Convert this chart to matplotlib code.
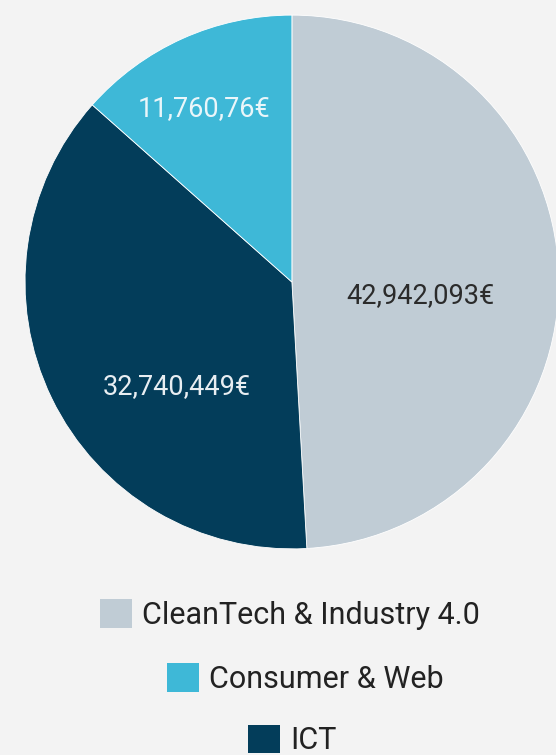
import matplotlib
matplotlib.use('Agg')
from matplotlib import pyplot as plt
from matplotlib.patches import Patch

plt.rcParams['font.family'] = ['Roboto', 'DejaVu Sans']

# pie order (clockwise from top)
sectors = ['CleanTech & Industry 4.0', 'ICT', 'Consumer & Web']
amounts = [42942093, 32740449, 11760760]
value_labels = ['42,942,093€', '32,740,449€', '11,760,76€']
colors = ['#c0ccd5', '#033d5a', '#3eb8d7']
label_colors = ['#2b2b2b', '#e8eef2', '#eaf6fa']
label_pos = [(0.48, -0.05), (-0.43, -0.39), (-0.33, 0.65)]

legend_order = ['CleanTech & Industry 4.0', 'Consumer & Web', 'ICT']

bg = '#f3f3f3'
fig = plt.figure(figsize=(5.56, 7.55), dpi=100, facecolor=bg)
ax = fig.add_axes([0.045, 0.273, 0.960, 0.707])
ax.set_facecolor(bg)

ax.pie(amounts, colors=colors, startangle=90, counterclock=False, radius=1,
       wedgeprops=dict(edgecolor='white', linewidth=0.6))
ax.set_xlim(-1, 1)
ax.set_ylim(-1, 1)
ax.set_aspect('equal')
ax.axis('off')

for txt, (x, y), c in zip(value_labels, label_pos, label_colors):
    ax.text(x, y, txt, ha='center', va='center', fontsize=19.5, color=c)

# each legend row centered on its own
rows_x = [0.522, 0.549, 0.526]
rows_y = [0.186, 0.101, 0.020]
for name, x, y in zip(legend_order, rows_x, rows_y):
    c = colors[sectors.index(name)]
    h = Patch(facecolor=c, edgecolor='none')
    fig.legend(handles=[h], labels=[name], loc='center', bbox_to_anchor=(x, y),
               frameon=False, fontsize=22, handlelength=1.05, handleheight=1.05,
               handletextpad=0.33, labelcolor='#222222')

fig.savefig('out.png', dpi=100, facecolor=bg)
